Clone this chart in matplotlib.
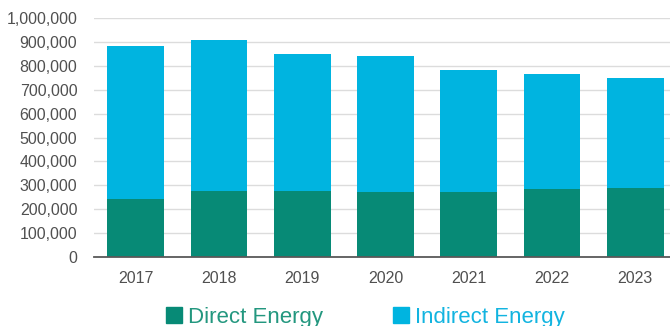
import matplotlib

matplotlib.use("Agg")

import matplotlib.pyplot as plt
import numpy as np
from matplotlib.patches import Patch

# Values
YEARS = ["2017", "2018", "2019", "2020", "2021", "2022", "2023"]
TOTAL = [881000, 907000, 847000, 840000, 782000, 764000, 748000]
DIRECT = [245000, 275000, 277000, 273000, 274000, 285000, 289000]
INDIRECT = [t - d for t, d in zip(TOTAL, DIRECT)]
SERIES_NAMES = ["Direct Energy", "Indirect Energy"]

DIRECT_COLOR = "#078a76"
INDIRECT_COLOR = "#00b4e0"

plt.rcParams["font.family"] = ["Liberation Sans", "DejaVu Sans"]

fig = plt.figure(figsize=(6.7, 3.26), dpi=100)
ax = fig.add_axes([94 / 670, 0.2107, 583 / 670, 0.735])

x = np.arange(len(YEARS))
width = 0.68
ax.bar(x, DIRECT, width, color=DIRECT_COLOR, zorder=3)
ax.bar(x, INDIRECT, width, bottom=DIRECT, color=INDIRECT_COLOR, zorder=3)

ax.set_xlim(-0.5, len(YEARS) - 0.5)
ax.set_ylim(0, 1_000_000)
ax.set_yticks(np.arange(0, 1_000_001, 100_000))
ax.yaxis.set_major_formatter(matplotlib.ticker.FuncFormatter(lambda v, _: f"{int(v):,}"))
ax.set_xticks(x)
ax.set_xticklabels(YEARS)

ax.grid(axis="y", color="#dcdcdc", linewidth=1.0, zorder=0)
for side in ("top", "right", "left"):
    ax.spines[side].set_visible(False)
ax.spines["bottom"].set_color("#595959")
ax.spines["bottom"].set_linewidth(1.3)
ax.spines["bottom"].set_zorder(4)
ax.tick_params(axis="both", length=0, labelsize=11.5, colors="#505050")
ax.tick_params(axis="y", pad=12)
ax.tick_params(axis="x", pad=10)

handles = [Patch(color=DIRECT_COLOR), Patch(color=INDIRECT_COLOR)]
fig.legend(
    handles, SERIES_NAMES, loc="lower left", bbox_to_anchor=(146 / 670, -0.066),
    ncol=2, frameon=False, prop={"size": 16},
    handlelength=0.72, handleheight=0.72,
    handletextpad=0.28, columnspacing=3.15,
    labelcolor=["#23977f", "#12b4e0"],
)

fig.savefig("out.png", dpi=100)
